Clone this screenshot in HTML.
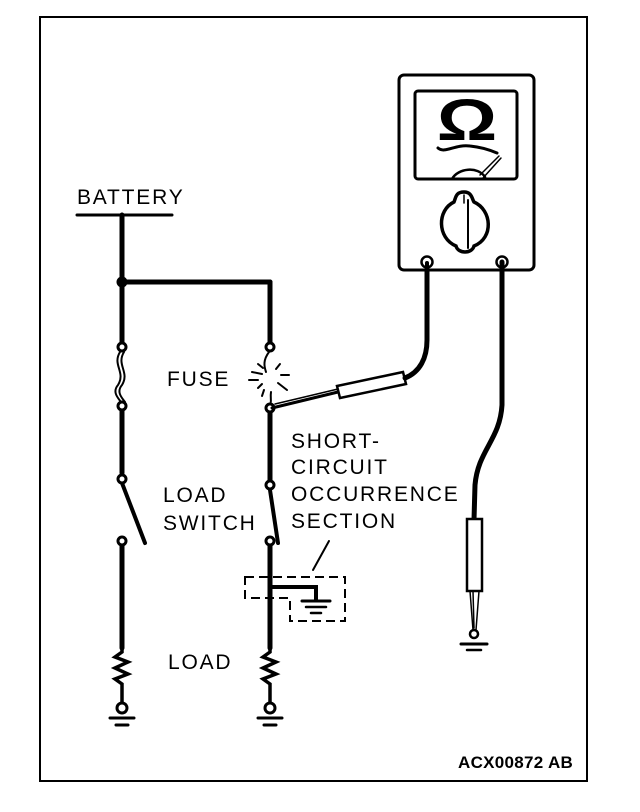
<!DOCTYPE html>
<html><head><style>body{margin:0;background:#fff}svg{display:block}text{font-family:"Liberation Sans",sans-serif;fill:#000}.t{font-size:21px;letter-spacing:1.8px}</style></head><body>
<svg width="640" height="812" viewBox="0 0 640 812" xmlns="http://www.w3.org/2000/svg">
<rect x="40" y="17" width="547" height="764" fill="none" stroke="#000" stroke-width="2"/>
<g fill="none" stroke="#000" stroke-linecap="round">
<line x1="77" y1="215" x2="172" y2="215" stroke-width="3"/>
<line x1="122" y1="215" x2="122" y2="342" stroke-width="5"/>
<line x1="122" y1="282" x2="270" y2="282" stroke-width="5"/>
<line x1="270" y1="282" x2="270" y2="342" stroke-width="5"/>
<circle cx="122" cy="282" r="5" fill="#000"/>
<path d="M120,352 C112,365 126,372 118,385 C112,392 118,398 121,402" stroke-width="2"/>
<path d="M124,352 C116,365 130,372 122,385 C116,392 122,398 125,402" stroke-width="2"/>
<line x1="122" y1="410" x2="122" y2="473" stroke-width="5"/>
<line x1="122" y1="483" x2="145" y2="543" stroke-width="4"/>
<line x1="122" y1="545" x2="122" y2="648" stroke-width="5"/>
<path d="M122,648 L122,652 L115,657 L128,662 L115,668 L128,674 L115,679 L122,684 L122,702" stroke-width="3.5"/>
<circle cx="122" cy="347" r="4" stroke-width="3" fill="#fff"/>
<circle cx="122" cy="406" r="4" stroke-width="3" fill="#fff"/>
<circle cx="122" cy="479" r="4" stroke-width="3" fill="#fff"/>
<circle cx="122" cy="541" r="4" stroke-width="3" fill="#fff"/>
<circle cx="122" cy="708" r="5" stroke-width="3" fill="#fff"/>
<line x1="110" y1="718" x2="134" y2="718" stroke-width="3"/>
<line x1="116" y1="725" x2="128" y2="725" stroke-width="3"/>
<path d="M269,352 C263,360 264,366 266,372" stroke-width="2"/>
<path d="M271,392 C270,398 272,402 270,404" stroke-width="2"/>
<g stroke-width="2">
<line x1="252" y1="372" x2="262" y2="374"/><line x1="249" y1="380" x2="258" y2="380"/>
<line x1="258" y1="388" x2="262" y2="384"/><line x1="258" y1="364" x2="263" y2="368"/>
<line x1="280" y1="364" x2="276" y2="369"/><line x1="281" y1="375" x2="289" y2="375"/>
<line x1="278" y1="383" x2="287" y2="390"/><line x1="262" y1="396" x2="264" y2="390"/>
</g>
<line x1="270" y1="412" x2="270" y2="480" stroke-width="5"/>
<line x1="270" y1="490" x2="278" y2="543" stroke-width="4"/>
<line x1="270" y1="545" x2="270" y2="648" stroke-width="5"/>
<path d="M270,648 L270,652 L263,657 L276,662 L263,668 L276,674 L263,679 L270,684 L270,702" stroke-width="3.5"/>
<circle cx="270" cy="347" r="4" stroke-width="3" fill="#fff"/>
<circle cx="270" cy="408" r="4" stroke-width="3" fill="#fff"/>
<circle cx="270" cy="485" r="4" stroke-width="3" fill="#fff"/>
<circle cx="270" cy="541" r="4" stroke-width="3" fill="#fff"/>
<circle cx="270" cy="708" r="5" stroke-width="3" fill="#fff"/>
<line x1="258" y1="718" x2="282" y2="718" stroke-width="3"/>
<line x1="264" y1="725" x2="276" y2="725" stroke-width="3"/>
<path d="M245,577 H345 V621 H290 V598 H245 Z" stroke-width="2" stroke-dasharray="9,5" stroke-linecap="butt"/>
<path d="M270,587 H316 V600" stroke-width="4" stroke-linecap="butt"/>
<line x1="302" y1="601" x2="330" y2="601" stroke-width="3"/>
<line x1="306" y1="607" x2="326" y2="607" stroke-width="2.5"/>
<line x1="311" y1="613" x2="321" y2="613" stroke-width="2.5"/>
<line x1="329" y1="541" x2="313" y2="570" stroke-width="2"/>
<path d="M272,408 L338,392" stroke-width="3"/>
<path d="M275,404 L338,389" stroke-width="1.5"/>
<polygon points="337,386 403,372 406,384 340,398" fill="#fff" stroke-width="2.5"/>
<path d="M405,378 C420,372 427,358 427,340 L427,265" stroke-width="5"/>
<rect x="399" y="75" width="135" height="195" rx="5" stroke-width="3" fill="#fff"/>
<rect x="415" y="91" width="102" height="88" rx="3" stroke-width="3"/>
<path d="M438,148 C445,154 455,144 470,146 C480,147 490,150 497,153" stroke-width="3"/>
<path d="M452,179 C458,168 478,166 485,177" stroke-width="2.5"/>
<path d="M480,175 L499,156 M483,178 L501,158" stroke-width="1.5"/>
<path d="M464,192 C472,192 472,199 474,202 C492,210 494,238 474,246 C472,254 458,254 456,246 C437,238 437,210 454,202 C456,197 456,192 464,192Z" stroke-width="3.5" fill="#fff"/>
<line x1="468" y1="200" x2="468" y2="248" stroke-width="2"/>
<line x1="464" y1="195" x2="464" y2="203" stroke-width="1.5"/>
<circle cx="427" cy="262" r="5.5" stroke-width="2.5" fill="#fff"/>
<circle cx="502" cy="262" r="5.5" stroke-width="2.5" fill="#fff"/>
<line x1="427" y1="263" x2="427" y2="275" stroke-width="4"/>
<path d="M502,262 L502,405 C500,440 478,450 475,485 L474,520" stroke-width="5"/>
<rect x="467" y="519" width="15" height="72" stroke-width="2.5" fill="#fff"/>
<path d="M470,591 L473,630 M479,591 L476,630 M473,591 L474,628" stroke-width="1.5"/>
<circle cx="474" cy="634" r="4" stroke-width="2.5" fill="#fff"/>
<line x1="461" y1="644" x2="487" y2="644" stroke-width="3"/>
<line x1="467" y1="650" x2="481" y2="650" stroke-width="2.5"/>
</g>
<text x="467" y="140" font-size="58" font-weight="bold" text-anchor="middle" transform="translate(467 0) scale(1.3 1) translate(-467 0)" font-family="Liberation Sans,sans-serif">Ω</text>
<text class="t" x="77" y="204">BATTERY</text>
<text class="t" x="167" y="386">FUSE</text>
<text class="t" x="163" y="502">LOAD</text>
<text class="t" x="163" y="530">SWITCH</text>
<text class="t" x="291" y="448">SHORT-</text>
<text class="t" x="291" y="474">CIRCUIT</text>
<text class="t" x="291" y="501">OCCURRENCE</text>
<text class="t" x="291" y="528">SECTION</text>
<text class="t" x="168" y="669">LOAD</text>
<text x="458" y="768" font-size="17" font-weight="bold" letter-spacing="0.3">ACX00872 AB</text>
</svg>
</body></html>
